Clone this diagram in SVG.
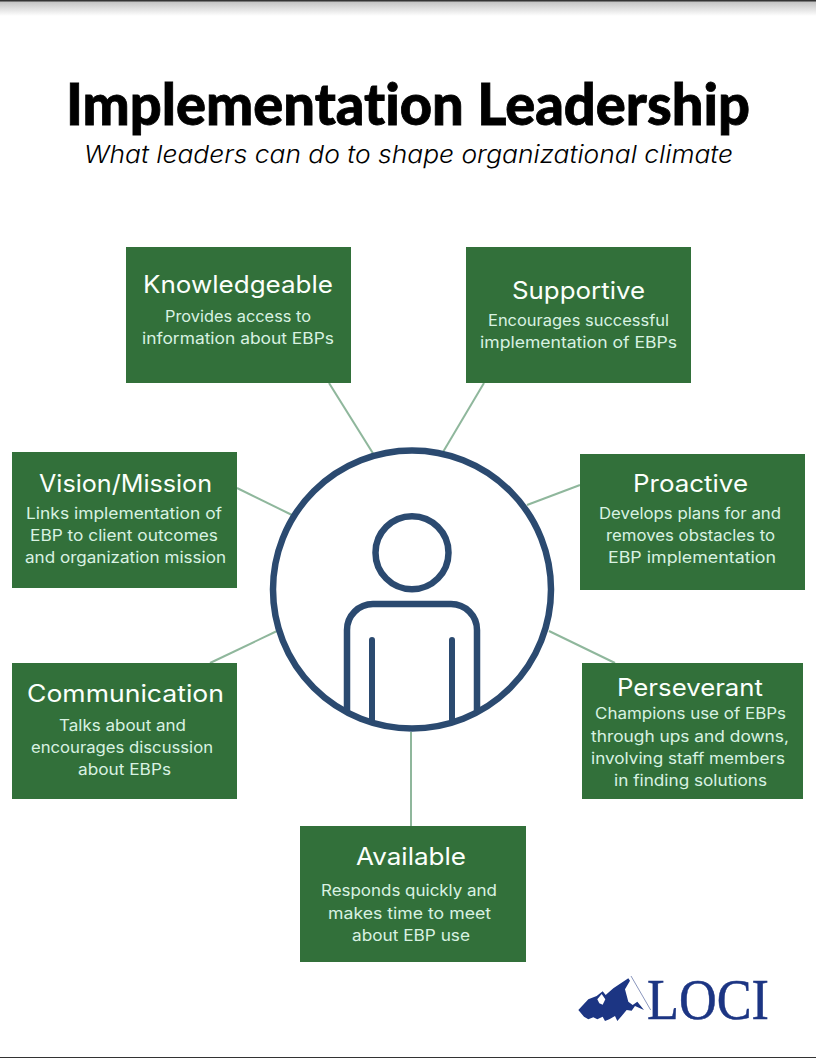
<svg xmlns="http://www.w3.org/2000/svg" width="816" height="1058" viewBox="0 0 816 1058">
<style>
.box{fill:#32703a}
.h{font-family:Inter,"Liberation Sans",sans-serif;font-size:24px;fill:#fbfffb}
.b{font-family:Inter,"Liberation Sans",sans-serif;font-size:15.5px;fill:#d9f2e2}
.c{stroke:#8fb79c;stroke-width:2;fill:none}
.p{stroke:#2b4a70;fill:none;stroke-linecap:round}
</style>
<defs><linearGradient id="sh" x1="0" y1="0" x2="0" y2="1"><stop offset="0" stop-color="#bbb"/><stop offset="1" stop-color="#fff"/></linearGradient></defs>
<rect width="816" height="1058" fill="#fff"/>
<rect y="0" width="816" height="16" fill="url(#sh)"/>
<rect y="0" width="816" height="1.5" fill="#333"/>
<rect y="1057" width="816" height="1" fill="#333"/>
<g id="title">
<text x="66" y="125" textLength="684" lengthAdjust="spacingAndGlyphs" style="font-family:Lato,'Liberation Sans',sans-serif;font-weight:900;font-size:57px;fill:#000;stroke:#000;stroke-width:.8;font-variant-ligatures:none">Implementation Leadership</text>
<text x="84" y="163" textLength="649" lengthAdjust="spacingAndGlyphs" style="font-family:Inter,'Liberation Sans',sans-serif;font-style:italic;font-weight:300;font-size:24.5px;fill:#000">What leaders can do to shape organizational climate</text>
</g>
<g id="connectors">
<line class="c" x1="329" y1="383" x2="374" y2="455"/>
<line class="c" x1="484" y1="383" x2="443" y2="452"/>
<line class="c" x1="237" y1="488" x2="292" y2="515"/>
<line class="c" x1="580" y1="485" x2="527" y2="505"/>
<line class="c" x1="210" y1="663" x2="277" y2="631"/>
<line class="c" x1="549" y1="631" x2="615" y2="663"/>
<line class="c" x1="411" y1="732" x2="411" y2="826"/>
</g>
<g id="center">
<circle cx="412" cy="589.5" r="139" fill="#fff" stroke="#2b4a70" stroke-width="6.5"/>
<circle class="p" cx="412" cy="552.7" r="36.5" stroke-width="6.5"/>
<path class="p" stroke-width="6.5" d="M347 711V630a26 26 0 0 1 26-26h78a26 26 0 0 1 26 26v81" stroke-linecap="butt"/>
<path class="p" stroke-width="6" d="M372 640V722M452 640V722"/>
</g>
<g id="knowledgeable"><rect class="box" x="126" y="247" width="225" height="136"/>
<text class="h" x="143" y="293" textLength="190" lengthAdjust="spacingAndGlyphs">Knowledgeable</text>
<text class="b" x="165" y="322" textLength="146" lengthAdjust="spacingAndGlyphs">Provides access to</text>
<text class="b" x="142" y="344" textLength="192" lengthAdjust="spacingAndGlyphs">information about EBPs</text></g>
<g id="supportive"><rect class="box" x="466" y="247" width="225" height="136"/>
<text class="h" x="512" y="299" textLength="133" lengthAdjust="spacingAndGlyphs">Supportive</text>
<text class="b" x="488" y="326" textLength="181" lengthAdjust="spacingAndGlyphs">Encourages successful</text>
<text class="b" x="480" y="348" textLength="197" lengthAdjust="spacingAndGlyphs">implementation of EBPs</text></g>
<g id="vision"><rect class="box" x="12" y="452" width="225" height="136"/>
<text class="h" x="39" y="492" textLength="173" lengthAdjust="spacingAndGlyphs">Vision/Mission</text>
<text class="b" x="26" y="519" textLength="196" lengthAdjust="spacingAndGlyphs">Links implementation of</text>
<text class="b" x="30" y="541" textLength="188" lengthAdjust="spacingAndGlyphs">EBP to client outcomes</text>
<text class="b" x="25" y="563" textLength="201" lengthAdjust="spacingAndGlyphs">and organization mission</text></g>
<g id="proactive"><rect class="box" x="580" y="454" width="225" height="136"/>
<text class="h" x="633" y="492" textLength="115" lengthAdjust="spacingAndGlyphs">Proactive</text>
<text class="b" x="599" y="519" textLength="182" lengthAdjust="spacingAndGlyphs">Develops plans for and</text>
<text class="b" x="606" y="541" textLength="169" lengthAdjust="spacingAndGlyphs">removes obstacles to</text>
<text class="b" x="608" y="563" textLength="168" lengthAdjust="spacingAndGlyphs">EBP implementation</text></g>
<g id="communication"><rect class="box" x="12" y="663" width="225" height="136"/>
<text class="h" x="27" y="702" textLength="197" lengthAdjust="spacingAndGlyphs">Communication</text>
<text class="b" x="59" y="731" textLength="127" lengthAdjust="spacingAndGlyphs">Talks about and</text>
<text class="b" x="31" y="753" textLength="182" lengthAdjust="spacingAndGlyphs">encourages discussion</text>
<text class="b" x="78" y="775" textLength="93" lengthAdjust="spacingAndGlyphs">about EBPs</text></g>
<g id="perseverant"><rect class="box" x="582" y="663" width="221" height="136"/>
<text class="h" x="617" y="696" textLength="146" lengthAdjust="spacingAndGlyphs">Perseverant</text>
<text class="b" x="595" y="719" textLength="191" lengthAdjust="spacingAndGlyphs">Champions use of EBPs</text>
<text class="b" x="591" y="742" textLength="198" lengthAdjust="spacingAndGlyphs">through ups and downs,</text>
<text class="b" x="591" y="764" textLength="194" lengthAdjust="spacingAndGlyphs">involving staff members</text>
<text class="b" x="614" y="786" textLength="153" lengthAdjust="spacingAndGlyphs">in finding solutions</text></g>
<g id="available"><rect class="box" x="300" y="826" width="226" height="136"/>
<text class="h" x="356" y="865" textLength="110" lengthAdjust="spacingAndGlyphs">Available</text>
<text class="b" x="321" y="896" textLength="176" lengthAdjust="spacingAndGlyphs">Responds quickly and</text>
<text class="b" x="328" y="919" textLength="163" lengthAdjust="spacingAndGlyphs">makes time to meet</text>
<text class="b" x="352" y="941" textLength="118" lengthAdjust="spacingAndGlyphs">about EBP use</text></g>
<g id="logo">
<g transform="translate(560 960) scale(.3333)">
<path fill="#1c3583" d="M55 150L85 118L110 108L128 94L137 105L160 85L205 55L210 62L195 88L205 125L218 135L232 125L252 150L225 138L215 152L200 150L185 168L172 183L165 168L148 178L135 183L128 170L112 178L100 172L85 178L72 170Z"/>
<path fill="#fff" d="M125 102L136 118L128 134L118 130L112 118Z"/>
<path fill="none" stroke="#8a96bd" stroke-width="3" d="M213 48L272 150"/>
</g>
<text x="647" y="1019" textLength="122" lengthAdjust="spacingAndGlyphs" style="font-family:'Liberation Serif',serif;font-size:58px;fill:#1c3583;stroke:#1c3583;stroke-width:.5">LOCI</text>
</g>
</svg>
